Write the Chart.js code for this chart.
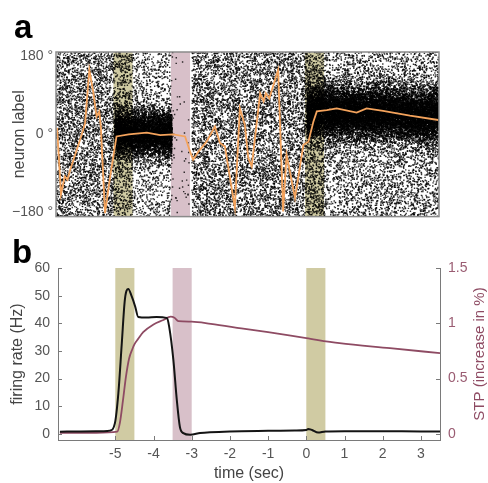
<!DOCTYPE html>
<html>
<head>
<meta charset="utf-8">
<script src="https://cdn.jsdelivr.net/npm/chart.js@4.4.1/dist/chart.umd.min.js"></script>
<style>
  body { margin: 0; background: #fff; }
  #wrap { position: relative; width: 488px; height: 483px; }
  .panel { position: absolute; left: 0; width: 488px; }
  #panelA { top: 0; height: 228px; }
  #panelB { top: 228px; height: 255px; }
  .tag { position: absolute; z-index: 2; color: #000;
         font: bold 33px/33px "Liberation Sans", Arial, sans-serif; }
</style>
</head>
<body>
<div id="wrap">
  <div class="panel" id="panelA"><canvas id="rasterChart"></canvas></div>
  <div class="panel" id="panelB"><canvas id="rateChart"></canvas></div>
  <div class="tag" style="left:14px;top:10px">a</div>
  <div class="tag" style="left:12px;top:235px">b</div>
</div>
<script>
(function () {
  'use strict'

  // shaded windows (sec): cue = olive, probe = pink
  const shadeStart = [-5.0, -3.5, 0.0]
  const shadeEnd = [-4.5, -3.0, 0.5]
  const shadeKind = ['cue', 'probe', 'cue']

  // tick labels
  const timeTicks = [-5, -4, -3, -2, -1, 0, 1, 2, 3]
  const angleTicks = [-180, 0, 180]
  const rateTicks = [0, 10, 20, 30, 40, 50, 60]
  const stpTicks = [0, 0.5, 1, 1.5]

  // panel a: decoded bump position (deg)
  const decodeTime = [-6.47, -6.37, -6.27, -6.2, -6.13, -6.0, -5.83, -5.74, -5.63, -5.53,
    -5.44, -5.37, -5.33, -5.22, -5.09, -4.92, -4.6, -4.13, -3.78, -3.44, -3.13, -3.0,
    -2.92, -2.78, -2.57, -2.35, -2.22, -2.09, -1.83, -1.7, -1.57, -1.48, -1.39, -1.17,
    -1.08, -1.02, -0.93, -0.7, -0.57, -0.48, -0.26, -0.04, 0.09, 0.22, 0.31, 0.57,
    0.83, 1.35, 1.61, 2.04, 2.74, 3.48]
  const decodeAngle = [15, -139, -97, -105, -82, -47, -1, 26, 149, 99,
    41, 53, 18, -182, -100, -5, 0, 4, -2, 0, -5, -40,
    -59, -40, -17, 18, -20, -28, -170, 60, 22, -55, -74, 95,
    76, 95, 83, 149, -178, -47, -147, -24, -17, 29, 53, 56,
    60, 50, 60, 54, 43, 33]

  // panel a: spike raster, background spikes per time segment
  const bgStart = [-6.5, -5.0, -4.5, -3.5, -2.95, 0.0, 0.5]
  const bgEnd = [-5.0, -4.5, -3.5, -3.02, 0.0, 0.5, 3.5]
  const bgCount = [3400, 900, 1100, 50, 6600, 1100, 4600]
  // panel a: spikes of the active bump
  const bandStart = [-4.97, 0.05, 1.5, 2.5]
  const bandEnd = [-3.47, 1.5, 2.5, 3.5]
  const bandCenter = [2, 50, 49, 43]
  const bandSpread = [28, 31, 31, 31]
  const bandCount = [6000, 6000, 4200, 4200]

  // panel b
  const rateTime = [-6.45, -5.9, -5.3, -5.14, -5.01, -4.92, -4.83, -4.75, -4.66, -4.57,
    -4.48, -4.4, -4.18, -3.92, -3.65, -3.59, -3.48, -3.39, -3.31, -3.22, -3.04, -2.78,
    -2.52, -2.0, -1.0, -0.3, 0.0, 0.05, 0.15, 0.31, 0.5, 1.0, 2.0, 3.0, 3.5]
  const rateHz = [0.8, 0.9, 1.0, 1.2, 3.9, 14.7, 32.8, 48.5, 52.4, 49.7,
    46.1, 42.3, 42.1, 42.3, 41.9, 38.8, 26.8, 12.3, 2.6, 0.3, -0.3, 0.3,
    0.6, 0.9, 1.1, 1.2, 1.4, 1.8, 1.4, 0.5, 0.9, 1.0, 1.0, 0.9, 0.9]
  const stpTime = [-6.45, -5.5, -4.95, -4.88, -4.8, -4.72, -4.64, -4.55, -4.5, -4.4,
    -4.27, -4.0, -3.74, -3.55, -3.45, -3.35, -3.0, -2.5, -1.7, -1.0, 0.0, 0.87, 2.19, 3.5]
  const stpValue = [0.01, 0.01, 0.02, 0.1, 0.3, 0.52, 0.68, 0.77, 0.81, 0.86,
    0.92, 0.99, 1.03, 1.06, 1.05, 1.02, 1.015, 0.995, 0.955, 0.92, 0.866, 0.82, 0.775, 0.73]

  const FONT = '"Liberation Sans", Arial, sans-serif'
  const MAUVE = '#8e4b63'
  const shadeColors = { cue: 'rgb(208, 203, 163)', probe: 'rgb(216, 192, 201)' }
  Chart.defaults.font.family = FONT

  // seeded generator, only used to scatter the unreadable individual spikes
  function seeded (seed) {
    return function () {
      seed = seed + 0x6D2B79F5 | 0
      let t = Math.imul(seed ^ seed >>> 15, 1 | seed)
      t = t + Math.imul(t ^ t >>> 7, 61 | t) ^ t
      return ((t ^ t >>> 14) >>> 0) / 4294967296
    }
  }
  const rnd = seeded(1729)
  const spikes = []
  bgStart.forEach((s, i) => {
    for (let k = 0; k < bgCount[i]; k++) {
      spikes.push({ x: s + rnd() * (bgEnd[i] - s), y: -190 + rnd() * 380 })
    }
  })
  bandStart.forEach((s, i) => {
    for (let k = 0; k < bandCount[i]; k++) {
      const g = Math.sqrt(-2 * Math.log(rnd() + 1e-9)) * Math.cos(2 * Math.PI * rnd())
      spikes.push({ x: s + rnd() * (bandEnd[i] - s), y: bandCenter[i] + g * bandSpread[i] })
    }
  })

  const shading = {
    id: 'shading',
    beforeDatasetsDraw (chart) {
      const { ctx, chartArea, scales: { x } } = chart
      ctx.save()
      shadeStart.forEach((s, i) => {
        const x0 = x.getPixelForValue(s)
        const x1 = x.getPixelForValue(shadeEnd[i])
        ctx.fillStyle = shadeColors[shadeKind[i]]
        ctx.fillRect(x0, chartArea.top, x1 - x0, chartArea.bottom - chartArea.top)
      })
      ctx.restore()
    }
  }

  const frame = {
    id: 'frame',
    afterDatasetsDraw (chart) {
      const { ctx, chartArea: a } = chart
      ctx.save()
      ctx.strokeStyle = '#8a8a8a'
      ctx.lineWidth = 1.5
      ctx.strokeRect(a.left, a.top, a.right - a.left, a.bottom - a.top)
      ctx.restore()
    }
  }

  // small tick marks pointing into the plot
  const inwardTicks = {
    id: 'inwardTicks',
    afterDraw (chart) {
      const ctx = chart.ctx
      ctx.save()
      ctx.strokeStyle = '#7a7a7a'
      ctx.lineWidth = 1
      Object.values(chart.scales).forEach(scale => {
        scale.ticks.forEach(t => {
          const p = Math.round(scale.getPixelForValue(t.value)) + 0.5
          ctx.beginPath()
          if (scale.axis === 'x') {
            ctx.moveTo(p, scale.top); ctx.lineTo(p, scale.top - 4)
          } else if (scale.position === 'left') {
            ctx.moveTo(scale.right, p); ctx.lineTo(scale.right + 4, p)
          } else {
            ctx.moveTo(scale.left, p); ctx.lineTo(scale.left - 4, p)
          }
          ctx.stroke()
        })
      })
      ctx.restore()
    }
  }

  // right axis title reads bottom-to-top, like the left one
  const rightTitle = {
    id: 'rightTitle',
    afterDraw (chart) {
      const { ctx, chartArea: a } = chart
      ctx.save()
      ctx.translate(480, (a.top + a.bottom) / 2)
      ctx.rotate(-Math.PI / 2)
      ctx.fillStyle = MAUVE
      ctx.font = '15px ' + FONT
      ctx.textAlign = 'center'
      ctx.textBaseline = 'middle'
      ctx.fillText('STP (increase in %)', 0, 0)
      ctx.restore()
    }
  }

  // Panel a: raster
  new Chart(document.getElementById('rasterChart'), {
    type: 'scatter',
    data: {
      datasets: [
        {
          label: 'decoded position',
          data: decodeTime.map((t, i) => ({ x: t, y: decodeAngle[i] })),
          showLine: true,
          borderColor: '#f4a35c',
          borderWidth: 1.8,
          pointRadius: 0,
          tension: 0
        },
        {
          label: 'spikes',
          data: spikes,
          pointStyle: 'rect',
          pointRadius: 1.0,
          borderWidth: 0,
          backgroundColor: 'rgba(0, 0, 0, 0.8)'
        }
      ]
    },
    options: {
      responsive: true,
      maintainAspectRatio: false,
      animation: false,
      events: [],
      layout: { padding: { left: 0, top: 52, right: 49, bottom: 11 } },
      plugins: { legend: { display: false }, tooltip: { enabled: false } },
      scales: {
        x: { type: 'linear', min: -6.5, max: 3.5, display: false },
        y: {
          min: -190,
          max: 190,
          afterBuildTicks: s => { s.ticks = angleTicks.map(v => ({ value: v })) },
          afterFit: s => { s.width = 56 },
          grid: { display: false, drawTicks: false },
          border: { display: false },
          ticks: {
            padding: 3,
            color: '#555',
            font: { size: 14 },
            callback: v => (v < 0 ? '\u2212' + Math.abs(v) : v) + ' \u00b0'
          },
          title: {
            display: true,
            text: 'neuron label',
            color: '#444',
            font: { size: 16 },
            padding: { top: 10, bottom: 0 }
          }
        }
      }
    },
    plugins: [shading, frame]
  })

  // Panel b: firing rate and STP
  new Chart(document.getElementById('rateChart'), {
    type: 'line',
    data: {
      datasets: [
        {
          label: 'firing rate',
          data: rateTime.map((t, i) => ({ x: t, y: rateHz[i] })),
          yAxisID: 'y',
          borderColor: '#141414',
          borderWidth: 2,
          pointRadius: 0,
          cubicInterpolationMode: 'monotone'
        },
        {
          label: 'STP',
          data: stpTime.map((t, i) => ({ x: t, y: stpValue[i] })),
          yAxisID: 'y1',
          borderColor: MAUVE,
          borderWidth: 1.8,
          pointRadius: 0,
          cubicInterpolationMode: 'monotone'
        }
      ]
    },
    options: {
      responsive: true,
      maintainAspectRatio: false,
      animation: false,
      events: [],
      layout: { padding: { left: 0, top: 40, right: 0, bottom: 0 } },
      plugins: { legend: { display: false }, tooltip: { enabled: false } },
      scales: {
        x: {
          type: 'linear',
          min: -6.5,
          max: 3.5,
          afterBuildTicks: s => { s.ticks = timeTicks.map(v => ({ value: v })) },
          afterFit: s => { s.height = 43 },
          grid: { display: false, drawTicks: false },
          border: { display: true, color: '#7a7a7a', width: 1 },
          ticks: { padding: 6, color: '#555', font: { size: 14 }, maxRotation: 0, autoSkip: false, callback: v => String(v) },
          title: { display: true, text: 'time (sec)', color: '#444', font: { size: 16 }, padding: { top: 0, bottom: 0 } }
        },
        y: {
          position: 'left',
          min: -2.2,
          max: 60,
          afterBuildTicks: s => { s.ticks = rateTicks.map(v => ({ value: v })) },
          afterFit: s => { s.width = 58 },
          grid: { display: false, drawTicks: false },
          border: { display: true, color: '#7a7a7a', width: 1 },
          ticks: { padding: 8, color: '#555', font: { size: 14 }, callback: v => String(v) },
          title: { display: true, text: 'firing rate (Hz)', color: '#444', font: { size: 16 }, padding: { top: 8, bottom: 0 } }
        },
        y1: {
          position: 'right',
          min: -0.055,
          max: 1.5,
          afterBuildTicks: s => { s.ticks = stpTicks.map(v => ({ value: v })) },
          afterFit: s => { s.width = 48 },
          grid: { display: false, drawTicks: false },
          border: { display: true, color: '#7a7a7a', width: 1 },
          ticks: { padding: 8, color: '#9a5c72', font: { size: 14 }, callback: v => String(v) }
        }
      }
    },
    plugins: [shading, inwardTicks, rightTitle]
  })
})()
</script>
</body>
</html>
